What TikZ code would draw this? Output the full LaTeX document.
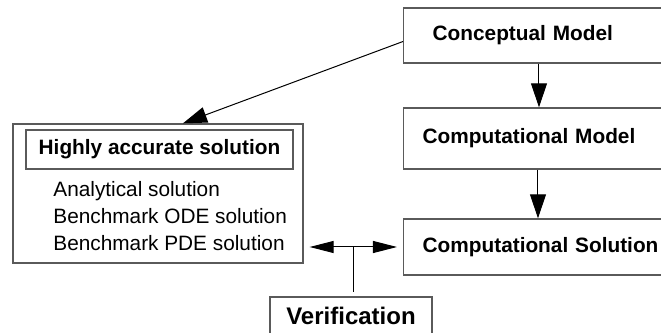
\documentclass[tikz,border=0pt]{standalone}
\usepackage{fontspec}
\setmainfont{Liberation Sans}
\usetikzlibrary{arrows.meta,calc,positioning}

\begin{document}
\begin{tikzpicture}[
    x=0.5pt, y=0.5pt,
    font=\fontsize{10.4}{13.5}\selectfont,
    >=latex,
]

\definecolor{boxLine}{RGB}{90, 90, 90}

\tikzset{
    stage/.style = {rectangle, anchor=west, text width=130pt, align=left,
                    inner xsep=9.5pt, draw=boxLine, line width=0.7pt, font=\fontsize{10.4}{13.5}\selectfont\bfseries},
    frame/.style = {rectangle, draw=boxLine, line width=0.7pt, inner sep=0pt},
    arrow/.style = {line width=0.5pt, -{Triangle[length=12pt, width=8pt]}},
    biarrow/.style = {line width=0.5pt, {Triangle[length=12pt, width=6pt]}-{Triangle[length=12pt, width=6pt]}},
}

\clip (0,0) rectangle (661,333);

% =========== MODEL CHAIN ===========
\node[stage, minimum height=27.5pt] (concept) at (403, 297.5) {\hspace*{5pt}Conceptual Model};
\node[stage, minimum height=30.5pt] (compmodel) at (403, 194.5) {Computational Model};
\node[stage, minimum height=28pt] (compsol) at (403, 86) {Computational Solution};

\draw[arrow] (concept.south -| 539, 0) -- (compmodel.north -| 539, 0);
\draw[arrow] (compmodel.south -| 538, 0) -- (compsol.north -| 538, 0);

% =========== ACCURATE SOLUTIONS ===========
\node[frame, minimum width=145pt, minimum height=69.5pt] (solbox) at (158, 139.5) {};
\node[frame, minimum width=133.5pt, minimum height=19.5pt, font=\fontsize{10.4}{13.5}\selectfont\bfseries]
    (accbox) at (159.5, 183.5) {Highly accurate solution};
\node[anchor=west, align=left, inner sep=0pt] (sollist) at (53, 117) {
    Analytical solution\\
    Benchmark ODE solution\\
    Benchmark PDE solution
};

\draw[arrow] ([yshift=-3pt]concept.west) -- ([xshift=12.5pt]solbox.north);

% =========== VERIFICATION ===========
\node[frame, minimum width=81pt, minimum height=20pt, font=\fontsize{12}{14}\selectfont\bfseries]
    (verif) at (351, 16) {\raisebox{1pt}{Verification}};

\draw[biarrow, shorten <=3pt, shorten >=3pt] (solbox.east |- compsol.west) -- (compsol.west);
\coordinate (junction) at (354, 86);
\draw[line width=0.5pt] (junction) -- ([xshift=1.5pt,yshift=2pt]verif.north);

\end{tikzpicture}
\end{document}
